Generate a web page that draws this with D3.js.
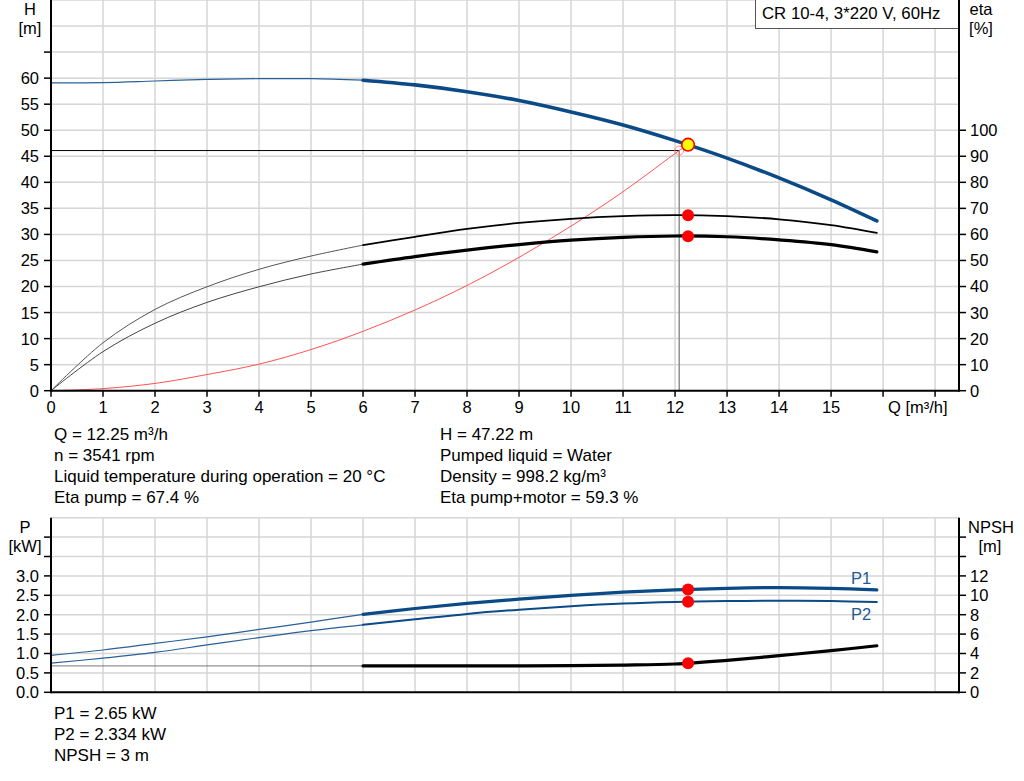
<!DOCTYPE html>
<html>
<head>
<meta charset="utf-8">
<script src="https://cdn.jsdelivr.net/npm/d3@7/dist/d3.min.js"></script>
<style>
  html, body { margin: 0; padding: 0; background: #fff; }
  svg { display: block; font-family: "Liberation Sans", Arial, sans-serif; }
</style>
</head>
<body>
<svg id="chart" width="1024" height="781"></svg>
<script>
// ---------- data ----------
const title = "CR 10-4, 3*220 V, 60Hz";
const flow = [0, 1, 2, 3, 4, 5, 6, 7, 8, 9, 10, 11, 12, 13, 14, 15, 15.88];
const headH = [59.1, 59.15, 59.45, 59.75, 59.9, 59.9, 59.6, 58.7, 57.4, 55.7, 53.5, 51.0, 48.0, 44.65, 40.85, 36.65, 32.6];
const etaPump = [0, 18.4, 31.2, 39.9, 46.6, 51.7, 55.9, 59.1, 62.1, 64.4, 66.0, 67.0, 67.4, 67.0, 65.8, 63.6, 60.6];
const etaTotal = [0, 15.0, 25.9, 33.9, 39.9, 44.8, 48.6, 51.5, 54.0, 56.1, 57.8, 58.9, 59.4, 59.1, 57.9, 56.1, 53.3];
const powerP1 = [0.95, 1.09, 1.26, 1.43, 1.62, 1.81, 2.01, 2.16, 2.29, 2.40, 2.50, 2.58, 2.64, 2.68, 2.70, 2.68, 2.64];
const powerP2 = [0.75, 0.88, 1.03, 1.22, 1.41, 1.59, 1.74, 1.88, 2.02, 2.13, 2.22, 2.29, 2.33, 2.35, 2.36, 2.35, 2.33];
const npshFlow = [0, 6, 7, 8, 9, 10, 11, 12, 13, 14, 15, 15.88];
const npsh = [2.72, 2.72, 2.72, 2.72, 2.73, 2.74, 2.8, 2.92, 3.3, 3.78, 4.29, 4.8];
const sysFlow = [0, 1, 2, 3, 4, 5, 6, 7, 8, 9, 10, 11, 12.08, 12.25];
const sysHead = [0, 0.4, 1.4, 3.1, 5.1, 7.9, 11.4, 15.5, 20.2, 25.6, 31.6, 38.2, 46.1, 47.22];
const requested = { q: 12.08, h: 46.1 };
const duty = { q: 12.25, h: 47.22, etaPump: 67.4, etaTotal: 59.3, p1: 2.65, p2: 2.334, npsh: 3 };
const xTicks = [0,1,2,3,4,5,6,7,8,9,10,11,12,13,14,15,16,17];
const xTickLabels = ["0","1","2","3","4","5","6","7","8","9","10","11","12","13","14","15","",""];
const hTicks = [0,5,10,15,20,25,30,35,40,45,50,55,60,65];
const hLabeled = [0,5,10,15,20,25,30,35,40,45,50,55,60];
const etaTicks = [0,10,20,30,40,50,60,70,80,90,100];
const pTicks = [0,0.5,1,1.5,2,2.5,3,3.5,4];
const pLabeled = [0,0.5,1,1.5,2,2.5,3];
const nTicks = [0,2,4,6,8,10,12,14,16];
const nLabeled = [0,2,4,6,8,10,12];
const infoLeft = ["Q = 12.25 m³/h", "n = 3541 rpm", "Liquid temperature during operation = 20 °C", "Eta pump = 67.4 %"];
const infoRight = ["H = 47.22 m", "Pumped liquid = Water", "Density = 998.2 kg/m³", "Eta pump+motor = 59.3 %"];
const infoBottom = ["P1 = 2.65 kW", "P2 = 2.334 kW", "NPSH = 3 m"];

// ---------- scales ----------
const svg = d3.select("#chart");
const X0 = 51, X1 = 959;
const x = d3.scaleLinear().domain([0, 17.46]).range([X0, X1]);
const yH = d3.scaleLinear().domain([0, 75]).range([390.7, 0]);
const yEta = d3.scaleLinear().domain([0, 150]).range([390.7, 0]);
const yP = d3.scaleLinear().domain([0, 4.5]).range([692.3, 517.7]);
const yN = d3.scaleLinear().domain([0, 18]).range([692.3, 517.7]);

const BLUE = "#0a4a86";
const GRID = "#d6d6d6";
const FS = 16.5;
const FS_INFO = 17;

// ---------- grids ----------
const grid = svg.append("g");
grid.selectAll(".vt").data(d3.range(1, 18)).join("line")
  .attr("x1", d => x(d)).attr("x2", d => x(d)).attr("y1", yH(75)).attr("y2", yH(0))
  .attr("stroke", GRID).attr("stroke-width", 1.5);
grid.selectAll(".ht").data(d3.range(5, 80, 5)).join("line")
  .attr("x1", X0).attr("x2", X1).attr("y1", d => yH(d)).attr("y2", d => yH(d))
  .attr("stroke", GRID).attr("stroke-width", 1.5);
grid.selectAll(".vb").data(d3.range(1, 18)).join("line")
  .attr("x1", d => x(d)).attr("x2", d => x(d)).attr("y1", yP(4.5)).attr("y2", yP(0))
  .attr("stroke", GRID).attr("stroke-width", 1.5);
grid.selectAll(".hb").data(d3.range(0.5, 4.6, 0.5)).join("line")
  .attr("x1", X0).attr("x2", X1).attr("y1", d => yP(d)).attr("y2", d => yP(d))
  .attr("stroke", GRID).attr("stroke-width", 1.5);

// ---------- helpers ----------
function pts(xs, ys) { return xs.map((q, i) => [q, ys[i]]); }
const smooth = d3.curveCatmullRom.alpha(0.5);
function drawCurve(g, data, ys, color, thinW, thickW, thinColor) {
  const line = d3.line().x(d => x(d[0])).y(d => ys(d[1])).curve(smooth);
  g.append("path").attr("d", line(data.filter(d => d[0] <= 6)))
    .attr("fill", "none").attr("stroke", thinColor || color).attr("stroke-width", thinW);
  g.append("path").attr("d", line(data.filter(d => d[0] >= 6)))
    .attr("fill", "none").attr("stroke", color).attr("stroke-width", thickW)
    .attr("stroke-linecap", "round");
}

const curves = svg.append("g");
curves.append("line").attr("x1", X0).attr("x2", x(requested.q))
  .attr("y1", yH(requested.h)).attr("y2", yH(requested.h))
  .attr("stroke", "#000").attr("stroke-width", 1);
curves.append("line").attr("x1", x(requested.q)).attr("x2", x(requested.q))
  .attr("y1", yH(requested.h)).attr("y2", yH(0))
  .attr("stroke", "#909090").attr("stroke-width", 1.5);
curves.append("path")
  .attr("d", d3.line().x(d => x(d[0])).y(d => yH(d[1])).curve(smooth)(pts(sysFlow, sysHead)))
  .attr("fill", "none").attr("stroke", "#ff4040").attr("stroke-width", 0.9);
curves.append("circle").attr("cx", x(requested.q)).attr("cy", yH(requested.h)).attr("r", 4.5)
  .attr("fill", "none").attr("stroke", "#ff8a8a").attr("stroke-width", 1);

drawCurve(curves, pts(flow, etaPump), yEta, "#000", 1, 1.8, "#555");
drawCurve(curves, pts(flow, etaTotal), yEta, "#000", 1, 3.2, "#444");
drawCurve(curves, pts(flow, headH), yH, BLUE, 1.2, 3.6, "#2a6098");

drawCurve(curves, pts(flow, powerP1), yP, BLUE, 1.2, 3.2, "#2a6098");
drawCurve(curves, pts(flow, powerP2), yP, BLUE, 1.2, 2, "#2a6098");
drawCurve(curves, pts(npshFlow, npsh), yN, "#000", 1, 3.2, "#777");

const dots = [[duty.q, yEta(duty.etaPump)], [duty.q, yEta(duty.etaTotal)],
              [duty.q, yP(duty.p1)], [duty.q, yP(duty.p2)], [duty.q, yN(duty.npsh)]];
curves.selectAll(".dot").data(dots).join("circle")
  .attr("cx", d => x(d[0])).attr("cy", d => d[1]).attr("r", 6).attr("fill", "#ff0000");
curves.append("circle").attr("cx", x(duty.q)).attr("cy", yH(duty.h)).attr("r", 6.3)
  .attr("fill", "#ffff00").attr("stroke", "#ff0000").attr("stroke-width", 1.6);

// ---------- axes ----------
const ax = svg.append("g").attr("font-size", FS).attr("fill", "#000");
function vAxis(xpos, y0, y1) {
  ax.append("line").attr("x1", xpos).attr("x2", xpos).attr("y1", y0).attr("y2", y1)
    .attr("stroke", "#000").attr("stroke-width", 2);
}
vAxis(X0, 0, yH(0) + 1);
vAxis(X1, 0, yH(0) + 1);
vAxis(X0, yP(4.5), yP(0) + 1);
vAxis(X1, yP(4.5), yP(0) + 1);
ax.append("line").attr("x1", X0).attr("x2", X1).attr("y1", yH(0)).attr("y2", yH(0)).attr("stroke", "#000").attr("stroke-width", 2);
ax.append("line").attr("x1", X0).attr("x2", X1).attr("y1", yP(0)).attr("y2", yP(0)).attr("stroke", "#000").attr("stroke-width", 2);

function ticksLeft(scale, ticks, labeled, fmt) {
  ax.selectAll(null).data(ticks).join("line")
    .attr("x1", X0 - 7).attr("x2", X0).attr("y1", d => scale(d)).attr("y2", d => scale(d))
    .attr("stroke", "#000").attr("stroke-width", 1.5);
  ax.selectAll(null).data(labeled).join("text")
    .attr("x", X0 - 12).attr("y", d => scale(d)).attr("dy", "0.36em")
    .attr("text-anchor", "end").text(fmt);
}
function ticksRight(scale, ticks, labeled, fmt) {
  ax.selectAll(null).data(ticks).join("line")
    .attr("x1", X1).attr("x2", X1 + 7).attr("y1", d => scale(d)).attr("y2", d => scale(d))
    .attr("stroke", "#000").attr("stroke-width", 1.5);
  ax.selectAll(null).data(labeled).join("text")
    .attr("x", X1 + 11).attr("y", d => scale(d)).attr("dy", "0.36em")
    .attr("text-anchor", "start").text(fmt);
}
ticksLeft(yH, hTicks, hLabeled, d => d3.format("d")(d));
ticksRight(yEta, etaTicks, etaTicks, d => d3.format("d")(d));
ticksLeft(yP, pTicks, pLabeled, d => d3.format(".1f")(d));
ticksRight(yN, nTicks, nLabeled, d => d3.format("d")(d));

ax.selectAll(null).data(xTicks).join("line")
  .attr("x1", d => x(d)).attr("x2", d => x(d)).attr("y1", yH(0)).attr("y2", yH(0) + 6)
  .attr("stroke", "#000").attr("stroke-width", 1.5);
ax.selectAll(null).data(xTicks).join("text")
  .attr("x", d => x(d)).attr("y", 413).attr("text-anchor", "middle")
  .text((d, i) => xTickLabels[i]);
ax.append("text").attr("x", 888).attr("y", 413).text("Q [m³/h]");

ax.append("text").attr("x", 30).attr("y", 15).attr("text-anchor", "middle").text("H");
ax.append("text").attr("x", 30).attr("y", 34).attr("text-anchor", "middle").text("[m]");
ax.append("text").attr("x", 981).attr("y", 15).attr("text-anchor", "middle").text("eta");
ax.append("text").attr("x", 981).attr("y", 34).attr("text-anchor", "middle").text("[%]");
ax.append("text").attr("x", 25).attr("y", 533).attr("text-anchor", "middle").text("P");
ax.append("text").attr("x", 25).attr("y", 552).attr("text-anchor", "middle").text("[kW]");
ax.append("text").attr("x", 991).attr("y", 533).attr("text-anchor", "middle").text("NPSH");
ax.append("text").attr("x", 990).attr("y", 552).attr("text-anchor", "middle").text("[m]");

ax.append("text").attr("x", 851).attr("y", 583.5).attr("fill", "#1d5a96").text("P1");
ax.append("text").attr("x", 851).attr("y", 619.5).attr("fill", "#1d5a96").text("P2");

svg.append("rect").attr("x", 755.5).attr("y", -1).attr("width", X1 - 755.5).attr("height", 29.5)
  .attr("fill", "#fff").attr("stroke", "#555").attr("stroke-width", 1);
svg.append("text").attr("x", 762).attr("y", 19).attr("font-size", 16.8).text(title);
svg.append("line").attr("x1", X1).attr("x2", X1).attr("y1", 0).attr("y2", 30).attr("stroke", "#000").attr("stroke-width", 2);

const info = svg.append("g").attr("font-size", FS_INFO).attr("fill", "#000");
info.selectAll(null).data(infoLeft).join("text")
  .attr("x", 54).attr("y", (d, i) => 440 + i * 21).text(d => d);
info.selectAll(null).data(infoRight).join("text")
  .attr("x", 440).attr("y", (d, i) => 440 + i * 21).text(d => d);
info.selectAll(null).data(infoBottom).join("text")
  .attr("x", 54).attr("y", (d, i) => 719 + i * 21).text(d => d);
</script>
</body>
</html>
